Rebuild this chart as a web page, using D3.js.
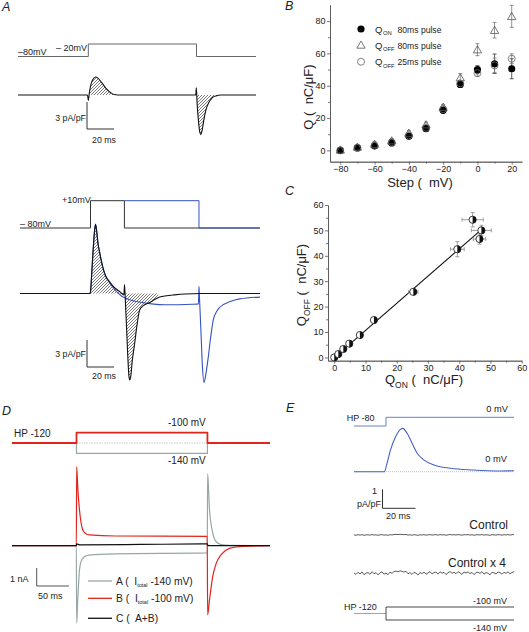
<!DOCTYPE html>
<html><head><meta charset="utf-8">
<script src="https://cdn.jsdelivr.net/npm/d3@7"></script>
<style>
body{margin:0;background:#fff}
svg{display:block}
text{font-family:"Liberation Sans",Arial,Helvetica,sans-serif;fill:#222;white-space:pre}
</style>
</head><body>
<svg id="fig" width="529" height="632" xml:space="preserve"></svg>
<script>
// ================= DATA =================
// Panel A (top): 80 ms step from -80 to -20 mV; time ms, current pA/pF
const aTopVoltage = [[-52,-80],[0,-80],[0,-20],[80,-20],[80,-80],[124,-80]];
const aTopCurrent = [[-52,0],[-0.6,0],[0,-0.6],[0.8,0.3],[2,1.2],[3.5,1.75],[5.3,2.0],[7.3,1.85],[9.3,1.5],[11.3,1.1],[13.3,0.7],[15.3,0.4],[17.3,0.18],[19.3,0.05],[21.5,0],[79.4,0],[79.9,0.8],[80.4,-0.8],[81.4,-2.8],[82.4,-4.1],[83.2,-4.4],[84.2,-3.9],[85.4,-2.8],[86.9,-1.7],[88.9,-0.9],[91.4,-0.35],[94.4,-0.1],[98,0],[124,0]];

// Panel A (bottom): 25 ms (black) and 80 ms (blue) steps to +10 mV
const aBotVoltage25 = [[-52,-80],[0,-80],[0,10],[25,10],[25,-80],[125,-80]];
const aBotVoltage80 = [[25,10],[80,10],[80,-80],[125,-80]];
const aBotCurrent25 = [[-52,0],[-0.4,0],[0,0.2],[1,2.5],[2,5.0],[3,7.0],[3.7,7.7],[4.5,7.0],[5.5,5.6],[6.7,4.6],[9.1,2.9],[11,2.0],[14.1,1.3],[17,0.75],[19,0.5],[22,0.15],[24.6,-0.15],[25.1,1.0],[25.6,-0.5],[26.5,-3.5],[27.5,-7.0],[28.4,-9.3],[28.9,-9.6],[29.7,-9.2],[30.8,-7.5],[32.6,-5.5],[34.5,-3.3],[36.3,-1.8],[39,-1.35],[43.7,-1.0],[47,-0.7],[51,-0.4],[56,-0.25],[62,-0.15],[70,-0.05],[81,0],[125,0]];
const aBotCurrent80 = [[-52,0],[-0.4,0],[0,0.2],[1,2.5],[2,5.0],[3,7.0],[3.7,7.7],[4.5,7.0],[5.5,5.6],[6.7,4.6],[9.1,2.9],[11,2.0],[14.1,1.2],[17,0.6],[19,0.25],[21,-0.05],[23,-0.3],[25,-0.45],[30,-0.75],[36,-0.95],[45,-1.15],[55,-1.25],[65,-1.25],[75,-1.2],[79.6,-1.15],[80,0.8],[80.4,-0.6],[81.4,-4.0],[82.5,-8.0],[83.7,-9.9],[84.8,-9.2],[86.9,-7.0],[88.5,-5.0],[90.6,-2.9],[93,-2.0],[95.6,-1.5],[103,-0.9],[110,-0.6],[125,-0.4]];

// Panel B: charge vs step potential
const stepMV   = [-80,-70,-60,-50,-40,-30,-20,-10,0,10,20];
const qOn80    = [0,1.5,2.7,4.6,8.7,13.4,24.8,40.8,49.9,53.6,50.5];
const qOn80Err = [0.8,0.8,1,1,1.2,1.2,1.5,1.5,2.5,6,6.2];
const qOff80   = [0.3,2.1,3.9,6.0,10.7,15.9,26.8,45.0,62.3,74.3,82.9];
const qOff80Err= [0.8,1,1.5,1.2,1.5,1.5,1.5,2.5,3.7,4.8,6.8];
const qOff25   = [0,1.7,3.0,5.0,9.2,14.0,25.5,41.5,47.8,52.6,56.7];
const qOff25Err= [0.8,0.8,1,1,1.2,1.2,1.5,1.5,2,4.5,3];
const bXTicks = [-80,-60,-40,-20,0,20];
const bYTicks = [0,20,40,60,80];

// Panel C: Q_OFF vs Q_ON
const cQon     = [0,1.3,2.9,4.8,8.2,12.7,25.3,39.4,44.3,47.1,46.5];
const cQonErr  = [0.3,0.3,0.4,0.4,0.5,0.6,1.5,2.2,3.4,3.2,2.0];
const cQoff    = [0,1.3,3.3,5.4,8.8,14.7,25.8,42.6,54.2,50.0,46.6];
const cQoffErr = [0.3,0.3,0.4,0.4,0.5,0.6,0.8,3.0,2.8,2.0,2.0];
const cFitQon  = [0,47.2];
const cFitQoff = [-0.1,50.4];
const cTicks = [0,10,20,30,40,50,60];

// Panel D: HP -120, steps to -140 (A) and -100 (B); current nA
const dVoltageA = [[-100,-120],[0,-120],[0,-140],[203,-140],[203,-120],[300,-120]];
const dVoltageB = [[-100,-120],[0,-120],[0,-100],[203,-100],[203,-120],[300,-120]];
const dCurrentA = [[-100,0],[-0.3,0],[0.3,-4.3],[2,-3.0],[4.6,-1.35],[7,-0.9],[9.8,-0.7],[14,-0.58],[20,-0.52],[60,-0.45],[202.7,-0.4],[203.3,4.0],[206.2,2.0],[211.3,0.7],[216.6,0.22],[224.3,0.06],[237,0.02],[300,0]];
const dCurrentB = [[-100,0],[-0.3,0],[0.3,4.4],[2,3.2],[4.6,2.0],[7,1.3],[9.8,0.87],[14,0.68],[20,0.6],[60,0.54],[202.7,0.52],[203.3,-3.85],[206.2,-3.0],[211.3,-1.7],[216.6,-0.98],[224.3,-0.5],[237,-0.15],[252.7,-0.05],[300,0]];
const dCurrentC = [[-100,0],[-0.3,0],[0.3,0.1],[5,0.05],[100,0.07],[202.7,0.1],[204,0],[300,0]];

// Panel E: HP -80 step to 0 mV, current pA/pF
const eVoltage = [[-19.4,-80],[0,-80],[0,0],[77.6,0]];
const eCurrent = [[-19.4,0],[-1,0],[0.5,0.4],[2.7,1.14],[5.8,1.84],[8.8,2.23],[10.2,2.28],[12.8,2.02],[15.9,1.49],[18.9,0.97],[22.9,0.62],[29,0.35],[39,0.18],[53,0.09],[69,0.04],[77.6,0.05]];
const eControl = [0.008,-0.012,0.016,-0.006,0.02,-0.016,0.004,0.014,-0.01,0.024,
  -0.004,0.012,-0.018,0.008,0.022,-0.008,0.006,-0.014,0.018,0.002,
  0.026,0.032,0.022,0.036,0.028,0.018,0.03,-0.004,0.012,-0.012,
  0.016,0.004,-0.02,0.014,-0.002,0.02,-0.01,0.008,0.024,-0.006,
  0.012,0.018,-0.008,0.022,0.004,0.016,-0.014,0.01,0.026,0.002,
  0.018,-0.004,0.024,0.008,-0.012,0.02,0.006,0.022,-0.002,0.014,
  -0.016,0.01,0.018,0.0,0.024,-0.008,0.012,0.004,-0.018,0.016,
  0.008,-0.006,0.02,0.012,-0.01,0.018,0.002,0.022,-0.004,0.014,0.024];
const eControlGain = 4;
const eVoltage2A = [[-19.4,-120],[0,-120],[0,-100],[77.6,-100]];
const eVoltage2B = [[0,-120],[0,-140],[77.6,-140]];

// ================= DRAWING =================
const svg = d3.select('#fig');
const defs = svg.append('defs');
defs.append('pattern').attr('id','hatch').attr('patternUnits','userSpaceOnUse')
  .attr('width',3).attr('height',3)
  .append('path').attr('d','M-1,1 l2,-2 M0,3 l3,-3 M2,4 l2,-2')
  .attr('stroke','#222').attr('stroke-width',0.6);

const BLUE = '#3452c0', RED = '#e3241b', GREY = '#97a7a6';

function text(g, x, y, s, size, opts={}) {
  const t = g.append('text').attr('x',x).attr('y',y).attr('font-size',size).text(s);
  if (opts.anchor) t.attr('text-anchor',opts.anchor);
  if (opts.italic) t.attr('font-style','italic');
  if (opts.rotate) t.attr('transform',`rotate(-90,${x},${y})`);
  return t;
}
function path(g, data, xs, ys, color, w, curve) {
  return g.append('path').datum(data)
    .attr('d', d3.line().x(d=>xs(d[0])).y(d=>ys(d[1])).curve(curve||d3.curveLinear))
    .attr('fill','none').attr('stroke',color).attr('stroke-width',w)
    .attr('stroke-linejoin','round');
}
function hatch(g, data, xs, ys, t0, t1, id) {
  defs.append('clipPath').attr('id',id).append('rect')
    .attr('x',xs(t0)).attr('y',0).attr('width',xs(t1)-xs(t0)).attr('height',632);
  g.append('path').datum(data)
    .attr('d', d3.area().x(d=>xs(d[0])).y0(ys(0)).y1(d=>ys(d[1])).curve(d3.curveMonotoneX))
    .attr('fill','url(#hatch)').attr('clip-path',`url(#${id})`);
}
function scaleBar(g, x, yb, hLen, vLen, color) {
  g.append('path').attr('d',`M${x},${yb-vLen}V${yb}H${x+hLen}`)
   .attr('fill','none').attr('stroke',color||'#333').attr('stroke-width',1);
}

// ---------- Panel A ----------
const gA = svg.append('g');
text(gA, 2, 11, 'A', 12.5, {italic:true});
const xA1 = d3.scaleLinear().domain([-52,124]).range([18,256]);
const vA1 = d3.scaleLinear().domain([-80,-20]).range([56.5,44]);
const iA1 = d3.scaleLinear().domain([0,3]).range([95,68]);
path(gA, aTopVoltage, xA1, vA1, '#666', 1);
text(gA, 18, 55, '\u201380mV', 9);
text(gA, 56, 50.5, '\u2013 20mV', 9);
hatch(gA, aTopCurrent, xA1, iA1, 0, 22, 'ca1');
hatch(gA, aTopCurrent, xA1, iA1, 79.6, 100, 'ca2');
path(gA, aTopCurrent, xA1, iA1, '#111', 1.1, d3.curveMonotoneX);
scaleBar(gA, 87, 129, xA1(20)-xA1(0), iA1(0)-iA1(3));
text(gA, 86, 120.5, '3 pA/pF', 8.8, {anchor:'end'});
text(gA, 92, 142.5, '20 ms', 8.8);

const xA2 = d3.scaleLinear().domain([-52,125]).range([20,260]);
const vA2 = d3.scaleLinear().domain([-80,10]).range([228,200.7]);
const iA2 = d3.scaleLinear().domain([0,3]).range([293.5,266.5]);
path(gA, aBotVoltage25, xA2, vA2, '#333', 1);
path(gA, aBotVoltage80, xA2, vA2, BLUE, 1);
text(gA, 62, 202.5, '+10mV', 9);
text(gA, 20, 226.5, '\u2013 80mV', 9);
hatch(gA, aBotCurrent25, xA2, iA2, 0, 50, 'ca3');
path(gA, aBotCurrent80, xA2, iA2, BLUE, 1.1, d3.curveMonotoneX);
path(gA, aBotCurrent25, xA2, iA2, '#111', 1.1, d3.curveMonotoneX);
scaleBar(gA, 87, 367, xA2(20)-xA2(0), iA2(0)-iA2(3));
text(gA, 86, 357, '3 pA/pF', 8.8, {anchor:'end'});
text(gA, 92, 379, '20 ms', 8.8);

// ---------- Panel B ----------
const gB = svg.append('g');
text(gB, 285, 10, 'B', 12.5, {italic:true});
const xB = d3.scaleLinear().domain([-86,26]).range([330,522]);
const yB = d3.scaleLinear().domain([-7,90]).range([161.7,4.9]);
function axes(g, xs, ys, xTicks, yTicks, xMinor, yMinor, x0, y0) {
  g.append('g').attr('transform',`translate(0,${y0})`)
    .call(d3.axisBottom(xs).tickValues(xTicks).tickSize(3).tickSizeOuter(0).tickPadding(0.5).tickFormat(d3.format('d')));
  g.append('g').attr('transform',`translate(0,${y0})`)
    .call(d3.axisBottom(xs).tickValues(xMinor).tickSize(2).tickSizeOuter(0).tickFormat(''));
  g.append('g').attr('transform',`translate(${x0},0)`)
    .call(d3.axisLeft(ys).tickValues(yTicks).tickSize(3).tickSizeOuter(0).tickPadding(1.5).tickFormat(d3.format('d')));
  g.append('g').attr('transform',`translate(${x0},0)`)
    .call(d3.axisLeft(ys).tickValues(yMinor).tickSize(2).tickSizeOuter(0).tickFormat(''));
  g.selectAll('.domain, .tick line').attr('stroke','#555').attr('stroke-width',0.8);
  g.selectAll('.tick text').attr('font-size',9).attr('fill','#333')
   .attr('font-family','"Liberation Sans",Arial,sans-serif');
}
axes(gB, xB, yB, bXTicks, bYTicks, [-70,-50,-30,-10,10], [10,30,50,70], 330, 161.7);
function vErr(g, x, ylo, yhi, color) {
  g.append('path').attr('d',`M${x},${ylo}V${yhi}M${x-2},${ylo}H${x+2}M${x-2},${yhi}H${x+2}`)
   .attr('stroke',color).attr('stroke-width',0.8).attr('fill','none');
}
function hErr(g, y, xlo, xhi, color) {
  g.append('path').attr('d',`M${xlo},${y}H${xhi}M${xlo},${y-2}V${y+2}M${xhi},${y-2}V${y+2}`)
   .attr('stroke',color).attr('stroke-width',0.8).attr('fill','none');
}
stepMV.forEach((v,i)=>{
  vErr(gB, xB(v), yB(qOn80[i]-qOn80Err[i]), yB(qOn80[i]+qOn80Err[i]), '#333');
  vErr(gB, xB(v), yB(qOff80[i]-qOff80Err[i]), yB(qOff80[i]+qOff80Err[i]), '#777');
  vErr(gB, xB(v), yB(qOff25[i]-qOff25Err[i]), yB(qOff25[i]+qOff25Err[i]), '#777');
});
const tri = d3.symbol().type(d3.symbolTriangle).size(30);
function triMark(g,x,y){ g.append('path').attr('d',tri()).attr('transform',`translate(${x},${y+0.8})`)
  .attr('fill','none').attr('stroke','#555').attr('stroke-width',0.8); }
function fillDot(g,x,y){ g.append('circle').attr('cx',x).attr('cy',y).attr('r',3.6).attr('fill','#000'); }
function openDot(g,x,y){ g.append('circle').attr('cx',x).attr('cy',y).attr('r',3.5).attr('fill','none').attr('stroke','#666').attr('stroke-width',0.8); }
stepMV.forEach((v,i)=> fillDot(gB, xB(v), yB(qOn80[i])));
stepMV.forEach((v,i)=> openDot(gB, xB(v), yB(qOff25[i])));
stepMV.forEach((v,i)=> triMark(gB, xB(v), yB(qOff80[i])));
fillDot(gB, 361, 29); triMark(gB, 361, 45); openDot(gB, 361, 61.7);
function qLabel(g, x, y, sub, rest) {
  text(g, x, y, 'Q', 9.5);
  text(g, x+8, y+2.8, sub, 5.8);
  text(g, 397.5, y, rest, 8.6);
}
qLabel(gB, 375, 32.5, 'ON', '80ms pulse');
qLabel(gB, 375, 48.5, 'OFF', '80ms pulse');
qLabel(gB, 375, 65, 'OFF', '25ms pulse');
text(gB, 420, 187, 'Step (  mV)', 13, {anchor:'middle'});
text(gB, 313, 97, 'Q (  nC/\u03bcF)', 13, {anchor:'middle', rotate:true});

// ---------- Panel C ----------
const gC = svg.append('g');
text(gC, 285, 195, 'C', 12.5, {italic:true});
const xC = d3.scaleLinear().domain([-2,60]).range([328,521.7]);
const yC = d3.scaleLinear().domain([-1.3,60]).range([360.7,205]);
axes(gC, xC, yC, cTicks, cTicks, [5,15,25,35,45,55], [5,15,25,35,45,55], 328, 360.7);
gC.append('line').attr('x1',xC(cFitQon[0])).attr('y1',yC(cFitQoff[0]))
  .attr('x2',xC(cFitQon[1])).attr('y2',yC(cFitQoff[1]))
  .attr('stroke','#111').attr('stroke-width',1.1);
cQon.forEach((q,i)=>{
  const x = xC(q), y = yC(cQoff[i]);
  if (cQonErr[i] > 0.8) hErr(gC, y, xC(q-cQonErr[i]), xC(q+cQonErr[i]), '#888');
  if (cQoffErr[i] > 0.8) vErr(gC, x, yC(cQoff[i]-cQoffErr[i]), yC(cQoff[i]+cQoffErr[i]), '#888');
});
const R = 3.6;
cQon.forEach((q,i)=>{
  const g = gC.append('g').attr('transform',`translate(${xC(q)},${yC(cQoff[i])})`);
  g.append('circle').attr('r',R).attr('fill','#fff').attr('stroke','#111').attr('stroke-width',0.8);
  g.append('path').attr('d',`M0,${-R}A${R},${R} 0 0 1 0,${R}Z`).attr('fill','#111');
});
const cx = gC.append('text').attr('x',424).attr('y',384).attr('text-anchor','middle').attr('font-size',13);
cx.append('tspan').text('Q');
cx.append('tspan').attr('font-size',8.5).attr('dy',4).text('ON');
cx.append('tspan').attr('dy',-4).text(' (  nC/\u03bcF)');
const cy = gC.append('text').attr('x',306).attr('y',285).attr('text-anchor','middle').attr('font-size',13)
  .attr('transform','rotate(-90,306,285)');
cy.append('tspan').text('Q');
cy.append('tspan').attr('font-size',8.5).attr('dy',4).text('OFF');
cy.append('tspan').attr('dy',-4).text(' (  nC/\u03bcF)');

// ---------- Panel D ----------
const gD = svg.append('g');
text(gD, 2, 415, 'D', 12.5, {italic:true});
const xD = d3.scaleLinear().domain([-100,300]).range([12,270]);
const vD = d3.scaleLinear().domain([-140,-100]).range([453.3,432.7]);
const iD = d3.scaleLinear().domain([0,1]).range([545.7,527.7]);
gD.append('line').attr('x1',xD(0)).attr('x2',xD(203)).attr('y1',vD(-120)).attr('y2',vD(-120))
  .attr('stroke','#bbb').attr('stroke-width',0.8).attr('stroke-dasharray','1.5,1');
path(gD, dVoltageA, xD, vD, GREY, 1.2);
path(gD, dVoltageB, xD, vD, RED, 1.8);
text(gD, 14, 436.5, 'HP -120', 10);
text(gD, 168, 426, '-100 mV', 10);
text(gD, 168, 464, '-140 mV', 10);
path(gD, dCurrentA, xD, iD, GREY, 1.2, d3.curveMonotoneX);
path(gD, dCurrentB, xD, iD, RED, 1.2, d3.curveMonotoneX);
path(gD, dCurrentC, xD, iD, '#111', 1.2, d3.curveMonotoneX);
scaleBar(gD, 36.7, 586, xD(50)-xD(0), iD(0)-iD(1), '#555');
text(gD, 10, 581.5, '1 nA', 9);
text(gD, 38, 598.5, '50 ms', 9);
const legD = [['A (  I','total',' -140 mV)',GREY,581],['B (  I','total',' -100 mV)',RED,598.3],['C (  A+B)','','','#111',618.3]];
legD.forEach(([a,sub,b,col,y])=>{
  gD.append('line').attr('x1',88).attr('x2',112).attr('y1',y).attr('y2',y).attr('stroke',col).attr('stroke-width',1.3);
  const t = gD.append('text').attr('x',116).attr('y',y+3.6).attr('font-size',10.3);
  t.append('tspan').text(a);
  if (sub) {
    t.append('tspan').attr('font-size',5.5).attr('dy',2).text(sub);
    t.append('tspan').attr('dy',-2).text(b);
  }
});

// ---------- Panel E ----------
const gE = svg.append('g');
text(gE, 286, 412, 'E', 12.5, {italic:true});
const xE = d3.scaleLinear().domain([-19.4,77.6]).range([354,514]);
const vE = d3.scaleLinear().domain([-80,0]).range([426,417.3]);
const iE = d3.scaleLinear().domain([0,1]).range([471.7,452.7]);
path(gE, eVoltage, xE, vE, '#6a80cf', 1);
text(gE, 346.7, 420.5, 'HP -80', 9);
text(gE, 508, 411.5, '0 mV', 9.3, {anchor:'end'});
gE.append('line').attr('x1',xE(-19.4)).attr('x2',xE(77.6)).attr('y1',iE(0)).attr('y2',iE(0))
  .attr('stroke','#aaa').attr('stroke-width',0.7).attr('stroke-dasharray','1,1');
path(gE, eCurrent, xE, iE, '#4661c6', 1.1, d3.curveMonotoneX);
text(gE, 507, 462, '0 mV', 9.3, {anchor:'end'});
scaleBar(gE, 382.5, 508.3, xE(20)-xE(0), iE(0)-iE(1));
text(gE, 372, 494, '1', 9);
text(gE, 381, 506.5, 'pA/pF', 9, {anchor:'end'});
text(gE, 386, 518.5, '20 ms', 9);
const tStep = (77.6 - (-19.4)) / (eControl.length - 1);
const ctrl1 = eControl.map((v,i)=>[-19.4 + i*tStep, v]);
const ctrl4 = eControl.map((v,i)=>[-19.4 + i*tStep, v*eControlGain]);
const iEc1 = d3.scaleLinear().domain([0,1]).range([535,516]);
const iEc4 = d3.scaleLinear().domain([0,1]).range([573.5,554.5]);
path(gE, ctrl1, xE, iEc1, '#333', 0.8);
path(gE, ctrl4, xE, iEc4, '#333', 0.8);
text(gE, 508, 528.5, 'Control', 12, {anchor:'end'});
text(gE, 506, 566.5, 'Control x 4', 12, {anchor:'end'});
const vE2 = d3.scaleLinear().domain([-140,-100]).range([620,607]);
path(gE, eVoltage2A.slice(0,2), xE, vE2, '#999', 0.9);
path(gE, eVoltage2A.slice(1), xE, vE2, '#333', 0.9);
path(gE, eVoltage2B, xE, vE2, '#333', 0.9);
text(gE, 344, 610, 'HP -120', 9);
text(gE, 507, 604, '-100 mV', 9, {anchor:'end'});
text(gE, 507, 631, '-140 mV', 9, {anchor:'end'});
</script>
</body></html>
